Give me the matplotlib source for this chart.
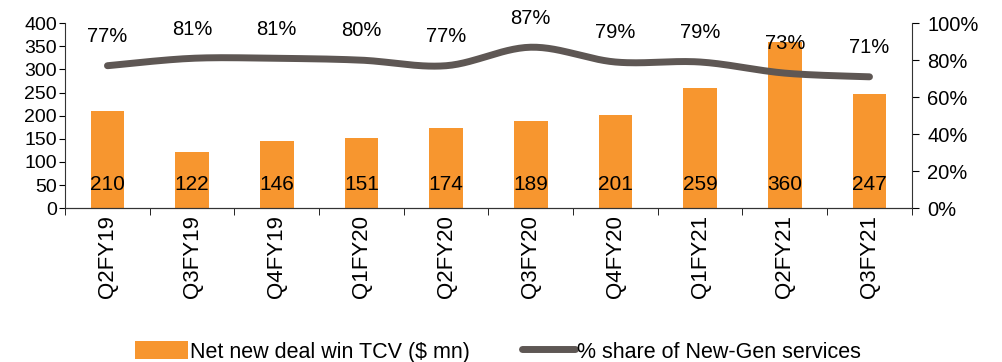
import numpy as np
import matplotlib.pyplot as plt
from matplotlib.ticker import PercentFormatter

plt.rcParams['font.family'] = ['Liberation Sans', 'DejaVu Sans']
plt.rcParams['font.size'] = 15

quarters = ['Q2FY19', 'Q3FY19', 'Q4FY19', 'Q1FY20', 'Q2FY20',
            'Q3FY20', 'Q4FY20', 'Q1FY21', 'Q2FY21', 'Q3FY21']
tcv = [210, 122, 146, 151, 174, 189, 201, 259, 360, 247]
newgen_share = [77, 81, 81, 80, 77, 87, 79, 79, 73, 71]

bar_color = '#F7962F'
line_color = '#5E5754'


def smooth(x, y, steps=30):
    # Catmull-Rom style curve through the points (like a "smoothed line" series)
    x = np.asarray(x, float)
    y = np.asarray(y, float)
    px = np.concatenate([[x[0]], x, [x[-1]]])
    py = np.concatenate([[y[0]], y, [y[-1]]])
    xs, ys = [], []
    t = np.linspace(0, 1, steps)
    for i in range(1, len(px) - 2):
        p0, p1, p2, p3 = [np.array([px[j], py[j]]) for j in range(i - 1, i + 3)]
        c1 = p1 + (p2 - p0) / 6
        c2 = p2 - (p3 - p1) / 6
        b = (np.outer((1 - t) ** 3, p1) + np.outer(3 * (1 - t) ** 2 * t, c1)
             + np.outer(3 * (1 - t) * t ** 2, c2) + np.outer(t ** 3, p2))
        xs.append(b[:, 0])
        ys.append(b[:, 1])
    return np.concatenate(xs), np.concatenate(ys)


fig = plt.figure(figsize=(10.02, 3.62), dpi=100)
ax = fig.add_axes([0.065, 0.425, 0.845, 0.511])
x = np.arange(len(quarters))

bars = ax.bar(x, tcv, width=0.4, color=bar_color, label='Net new deal win TCV ($ mn)')
for xi, v in zip(x, tcv):
    ax.annotate(str(v), (xi, 0), xytext=(0, 17), textcoords='offset points',
                ha='center', va='center', fontsize=15)

ax.set_xlim(-0.5, len(quarters) - 0.5)
ax.set_ylim(0, 400)
ax.set_yticks(range(0, 401, 50))
ax.set_xticks(x)
ax.set_xticklabels(quarters, rotation=90, fontsize=16)
ax.set_xticks(np.arange(-0.5, len(quarters), 1), minor=True)
ax.tick_params(axis='x', which='major', length=0, pad=5)
ax.tick_params(axis='x', which='minor', length=5, direction='out')
ax.tick_params(axis='y', length=4, direction='out', pad=2, labelsize=14)
ax.spines['top'].set_visible(False)
ax.spines['right'].set_visible(False)

ax2 = ax.twinx()
sx, sy = smooth(x, newgen_share)
line, = ax2.plot(sx, sy, color=line_color, lw=5, solid_capstyle='round',
                 label='% share of New-Gen services')
for xi, v in zip(x, newgen_share):
    ax2.annotate(f'{v}%', (xi, v), xytext=(0, 21), textcoords='offset points',
                 ha='center', va='center', fontsize=14.5, annotation_clip=False)
ax2.set_ylim(0, 100)
ax2.set_yticks(range(0, 101, 20))
ax2.yaxis.set_major_formatter(PercentFormatter(decimals=0))
ax2.tick_params(axis='y', length=5, direction='out', pad=6, labelsize=14.5)
ax2.spines['top'].set_visible(False)
ax2.spines['left'].set_visible(False)

for a in (ax, ax2):
    for s in a.spines.values():
        s.set_color('#333333')

fig.legend([bars, line], ['Net new deal win TCV ($ mn)', '% share of New-Gen services'],
           loc='center', bbox_to_anchor=(0.497, 0.028), ncol=2, frameon=False,
           handlelength=2.45, handleheight=0.9, handletextpad=0.1, columnspacing=2.4,
           fontsize=15.5)

fig.savefig('out.png', dpi=100)
